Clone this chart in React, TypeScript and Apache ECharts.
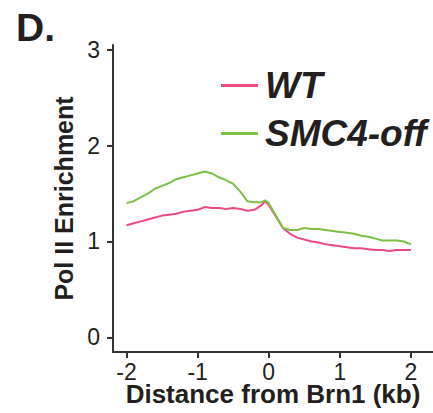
import React, { useEffect, useRef } from "react";
import * as echarts from "echarts";

const distanceKb = [
  -2.0, -1.9, -1.8, -1.7, -1.6, -1.5, -1.4, -1.3, -1.2, -1.1, -1.0, -0.9, -0.8, -0.7, -0.6, -0.5,
  -0.4, -0.3, -0.2, -0.1, -0.05, 0.0, 0.1, 0.2, 0.3, 0.4, 0.5, 0.6, 0.7, 0.8, 0.9, 1.0, 1.1, 1.2,
  1.3, 1.4, 1.5, 1.6, 1.7, 1.8, 1.9, 2.0,
];
const wtValues = [
  1.17, 1.19, 1.21, 1.23, 1.25, 1.27, 1.28, 1.29, 1.31, 1.32, 1.33, 1.36, 1.35, 1.35, 1.34, 1.35,
  1.34, 1.32, 1.33, 1.38, 1.42, 1.38, 1.26, 1.14, 1.08, 1.04, 1.02, 1.0, 0.99, 0.97, 0.96, 0.95,
  0.94, 0.93, 0.93, 0.92, 0.91, 0.91, 0.9, 0.91, 0.91, 0.91,
];
const smc4OffValues = [
  1.4, 1.42, 1.46, 1.5, 1.55, 1.58, 1.61, 1.65, 1.67, 1.69, 1.71, 1.73, 1.71, 1.67, 1.64, 1.6,
  1.52, 1.42, 1.41, 1.41, 1.43, 1.4, 1.27, 1.14, 1.12, 1.12, 1.14, 1.13, 1.13, 1.12, 1.11, 1.1,
  1.09, 1.08, 1.06, 1.05, 1.03, 1.01, 1.01, 1.01, 1.0, 0.97,
];
const xTicks = [-2, -1, 0, 1, 2];
const yTicks = [0, 1, 2, 3];
const seriesNames = ["WT", "SMC4-off"];

const FONT = "'Liberation Sans', Arial, Helvetica, sans-serif";
const INK = "#231f20";

export default function App() {
  const ref = useRef<HTMLDivElement>(null);
  useEffect(() => {
    if (!ref.current) return;
    const chart = echarts.init(ref.current, undefined, { renderer: "svg" });
    const wt = distanceKb.map((x, i) => [x, wtValues[i]]);
    const smc = distanceKb.map((x, i) => [x, smc4OffValues[i]]);
    chart.setOption({
      animation: false,
      backgroundColor: "#ffffff",
      textStyle: { fontFamily: FONT },
      title: {
        text: "D.",
        left: 11,
        top: 3,
        textStyle: { fontSize: 39, fontWeight: "bold", color: INK, fontFamily: FONT },
      },
      grid: {
        left: 113,
        top: 45,
        width: 320,
        height: 307,
        containLabel: false,
        outerBoundsMode: "none",
      },
      legend: {
        orient: "vertical",
        left: 216,
        top: 62,
        itemWidth: 37,
        itemHeight: 3,
        itemGap: 11,
        icon: "rect",
        data: seriesNames,
        textStyle: {
          fontSize: 37,
          fontWeight: "bold",
          fontStyle: "italic",
          color: INK,
          fontFamily: FONT,
          lineHeight: 37,
          padding: [0, 0, 0, 2],
        },
      },
      xAxis: {
        type: "value",
        min: -2.19,
        max: 2.31,
        name: "Distance from Brn1 (kb)",
        nameLocation: "middle",
        nameGap: 32,
        nameMoveOverlap: false,
        nameTextStyle: { fontSize: 26, lineHeight: 20, fontWeight: "bold", color: INK, fontFamily: FONT },
        axisLine: { show: true, onZero: false, lineStyle: { color: "#333", width: 2 } },
        axisTick: { show: true, length: 6, customValues: xTicks, lineStyle: { color: "#333", width: 2 } },
        axisLabel: { customValues: xTicks, fontSize: 23, lineHeight: 18, color: INK, margin: 11, fontFamily: FONT },
        splitLine: { show: false },
      },
      yAxis: {
        type: "value",
        min: -0.153,
        max: 3.05,
        name: "Pol II Enrichment",
        nameLocation: "middle",
        nameGap: 37,
        nameMoveOverlap: false,
        nameTextStyle: { fontSize: 25, fontWeight: "bold", color: INK, fontFamily: FONT },
        axisLine: { show: true, onZero: false, lineStyle: { color: "#333", width: 2 } },
        axisTick: { show: true, length: 6, customValues: yTicks, lineStyle: { color: "#333", width: 2 } },
        axisLabel: { customValues: yTicks, fontSize: 23, color: INK, margin: 13, padding: [6, 0, 0, 0], fontFamily: FONT },
        splitLine: { show: false },
      },
      series: [
        {
          name: seriesNames[0],
          type: "line",
          data: wt,
          showSymbol: false,
          symbol: "none",
          lineStyle: { color: "#ec4a83", width: 2 },
          itemStyle: { color: "#ec4a83" },
          z: 2,
        },
        {
          name: seriesNames[1],
          type: "line",
          data: smc,
          showSymbol: false,
          symbol: "none",
          lineStyle: { color: "#7cc146", width: 2 },
          itemStyle: { color: "#7cc146" },
          z: 3,
        },
      ],
    });
    return () => chart.dispose();
  }, []);
  return (
    <div
      ref={ref}
      style={{ position: "fixed", left: 0, top: 0, width: 433, height: 413, background: "#fff" }}
    />
  );
}
